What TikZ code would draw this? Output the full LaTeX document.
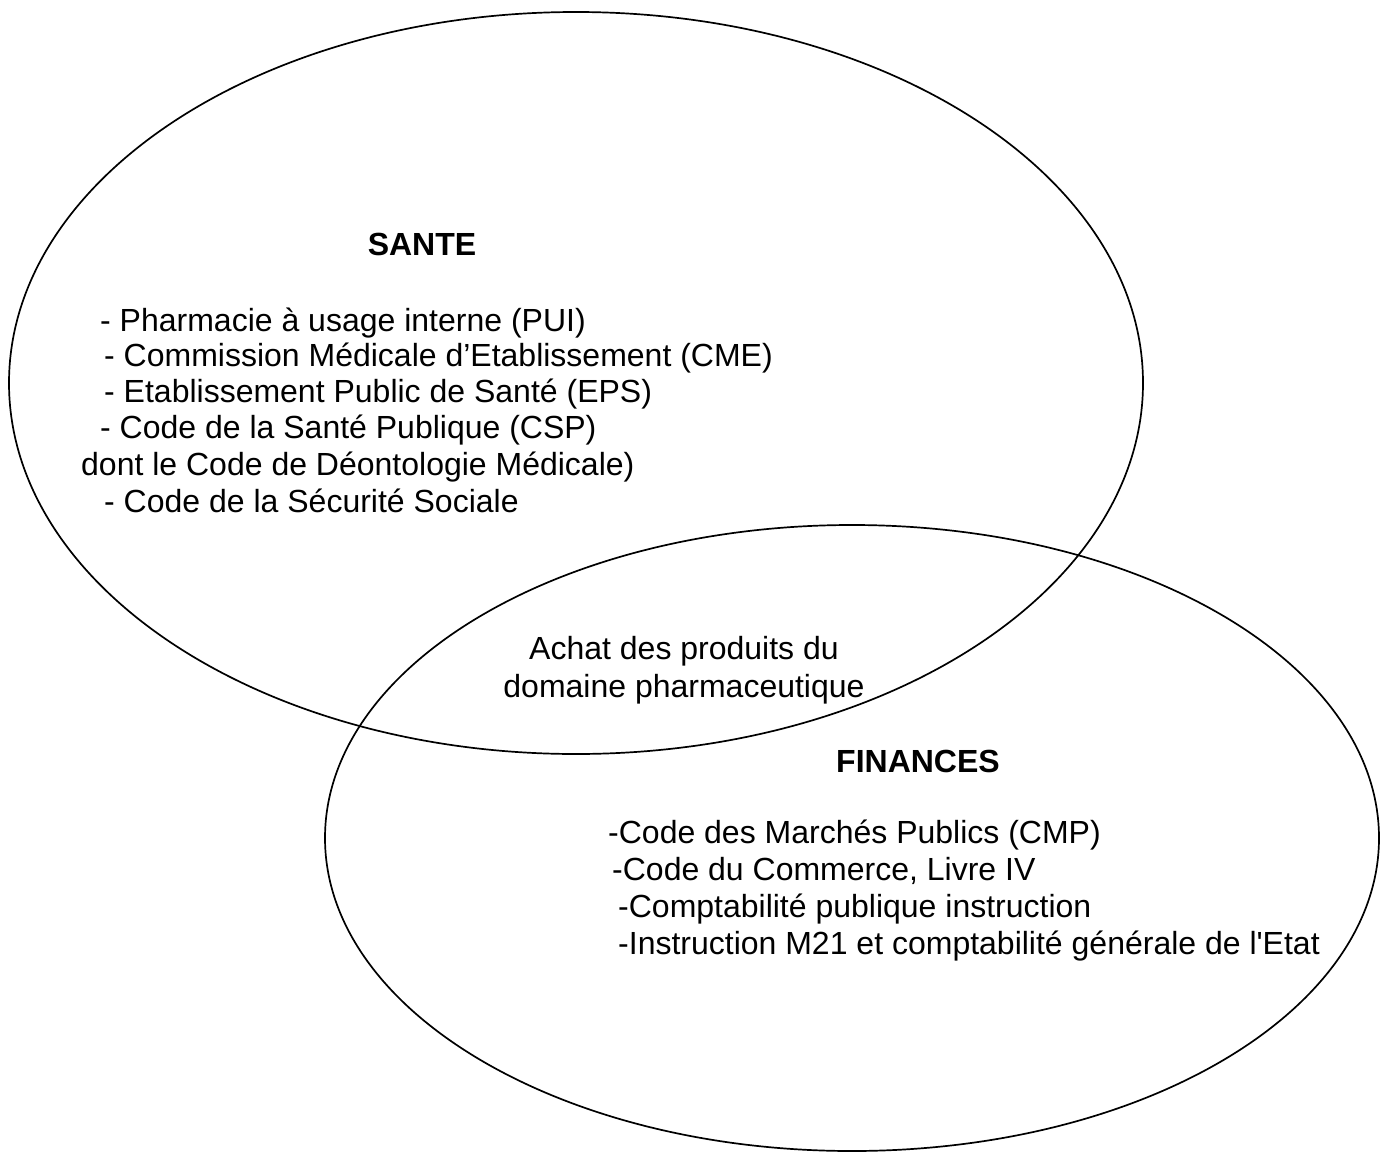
\documentclass[tikz,border=0pt]{standalone}
\usepackage{fontspec}
\setmainfont{Liberation Sans}
\begin{document}
\begin{tikzpicture}[x=1pt,y=-1pt,
  txt/.style={inner sep=0pt,anchor=base west,font=\fontsize{32}{37}\selectfont},
  ctxt/.style={inner sep=0pt,anchor=base,font=\fontsize{32}{37}\selectfont},
  ttl/.style={inner sep=0pt,anchor=base,font=\fontsize{32}{37}\selectfont\bfseries},
  setline/.style={draw=black,line width=1.7pt}]
\useasboundingbox (0,0) rectangle (1382,1154);
\draw[setline] (576,383) ellipse [x radius=567, y radius=371];
\draw[setline] (852,838) ellipse [x radius=527, y radius=313];

\node[ttl] (sante) at (422,255) {SANTE};
\node[txt] (s1) at (100,331) {- Pharmacie à usage interne (PUI)};
\node[txt] (s2) at (104,366) {- Commission Médicale d’Etablissement (CME)};
\node[txt] (s3) at (104,402) {- Etablissement Public de Santé (EPS)};
\node[txt] (s4) at (100,438) {- Code de la Santé Publique (CSP)};
\node[txt] (s5) at (81,475) {dont le Code de Déontologie Médicale)};
\node[txt] (s6) at (104,512) {- Code de la Sécurité Sociale};

\node[ctxt] (a1) at (684,659) {Achat des produits du};
\node[ctxt] (a2) at (684,697) {domaine pharmaceutique};

\node[ttl] (fin) at (918,772) {FINANCES};
\node[txt] (f1) at (608,843) {-Code des Marchés Publics (CMP)};
\node[txt] (f2) at (612,880) {-Code du Commerce, Livre IV};
\node[txt] (f3) at (618,917) {-Comptabilité publique instruction};
\node[txt] (f4) at (618,954) {-Instruction M21 et comptabilité générale de l\textquotesingle Etat};
\end{tikzpicture}
\end{document}
